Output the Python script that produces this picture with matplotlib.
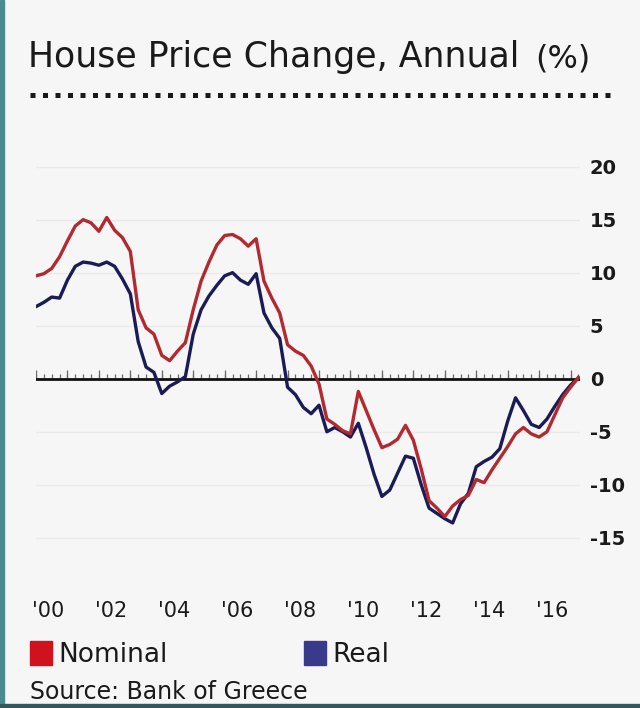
import numpy as np
import matplotlib
matplotlib.use('Agg')
import matplotlib.pyplot as plt
from matplotlib.lines import Line2D
from matplotlib.patches import Rectangle

# quarterly readings, 2000 Q1 onwards
nominal = [9.7, 9.9, 10.4, 11.5, 13.0, 14.4, 15.0, 14.7, 13.9, 15.2,
           14.0, 13.3, 12.0, 6.5, 4.8, 4.2, 2.2, 1.7, 2.6, 3.4,
           6.5, 9.2, 11.0, 12.6, 13.5, 13.6, 13.2, 12.5, 13.2, 9.2,
           7.6, 6.2, 3.2, 2.6, 2.2, 1.2, -0.5, -3.8, -4.3, -4.9,
           -5.2, -1.2, -3.0, -4.8, -6.5, -6.2, -5.7, -4.4, -5.8, -8.5,
           -11.5, -12.2, -13.0, -12.0, -11.4, -11.0, -9.5, -9.8, -8.6, -7.5,
           -6.4, -5.2, -4.6, -5.2, -5.5, -5.0, -3.4, -1.8, -0.8, 0.1]
real = [6.8, 7.2, 7.7, 7.6, 9.3, 10.6, 11.0, 10.9, 10.7, 11.0,
        10.6, 9.4, 8.0, 3.5, 1.1, 0.6, -1.4, -0.7, -0.3, 0.2,
        4.2, 6.5, 7.8, 8.8, 9.7, 10.0, 9.3, 8.9, 9.9, 6.2,
        4.8, 3.8, -0.8, -1.5, -2.7, -3.3, -2.5, -5.0, -4.6, -5.0,
        -5.5, -4.2, -6.5, -9.0, -11.1, -10.5, -8.9, -7.3, -7.5, -10.0,
        -12.2, -12.7, -13.2, -13.6, -11.8, -10.8, -8.3, -7.8, -7.4, -6.6,
        -4.0, -1.8, -3.0, -4.3, -4.6, -3.8, -2.6, -1.5, -0.6, 0.1]
years = [2000, 2002, 2004, 2006, 2008, 2010, 2012, 2014, 2016]
year_labels = ["'00", "'02", "'04", "'06", "'08", "'10", "'12", "'14", "'16"]
y_ticks = [20, 15, 10, 5, 0, -5, -10, -15]

x = 2000 + np.arange(len(nominal)) / 4.0

W, H = 640, 708
fig = plt.figure(figsize=(W / 100, H / 100), dpi=100)
fig.patch.set_facecolor('#f6f6f6')

ax = fig.add_axes([36 / W, 1 - 559 / H, 544 / W, 403 / H])
ax.set_facecolor('none')
ax.set_xlim(2000, 2017.3)
ax.set_ylim(-17, 21)

for v in y_ticks:
    if v != 0:
        ax.axhline(v, color='#e9e9e9', lw=1, zorder=0)

# small tick marks sitting on the zero line
qx = np.arange(2000, 2017.3, 0.25)
ax.vlines(qx, 0, 0.45, color='#6a6a6a', lw=0.9, zorder=1)
ax.vlines(np.arange(2000, 2018), 0, 0.8, color='#6a6a6a', lw=0.9, zorder=1)
ax.axhline(0, color='#111111', lw=2.0, zorder=2)

ax.plot(x, real, color='#1b1b55', lw=2.4, zorder=3)
ax.plot(x, nominal, color='#b02a30', lw=2.4, zorder=4)

for s in ax.spines.values():
    s.set_visible(False)
ax.yaxis.tick_right()
ax.set_yticks(y_ticks)
ax.set_yticklabels([str(v) for v in y_ticks], fontweight='bold')
ax.tick_params(axis='y', length=0, pad=7, labelsize=14, labelcolor='#1a1a1a')
ax.set_xticks([yr + 0.4 for yr in years])
ax.set_xticklabels(year_labels)
ax.tick_params(axis='x', length=0, pad=30, labelsize=15, labelcolor='#1a1a1a')

# title and dotted rule
fig.text(28 / W, 1 - 57 / H, 'House Price Change, Annual', fontsize=25,
         va='center', ha='left', color='#1a1a1a')
fig.text(535 / W, 1 - 59 / H, '(%)', fontsize=23, va='center', ha='left',
         color='#1a1a1a')
fig.add_artist(Line2D([30 / W, 610 / W], [1 - 95 / H, 1 - 95 / H],
                      transform=fig.transFigure, color='#1a1a1a', lw=3.6,
                      linestyle=(0, (1, 1.5)), dash_capstyle='butt'))

# legend
fig.add_artist(Rectangle((30 / W, 1 - 665 / H), 22 / W, 24 / H,
                         transform=fig.transFigure, color='#d0121e'))
fig.text(58 / W, 1 - 655 / H, 'Nominal', fontsize=19, va='center', ha='left',
         color='#1a1a1a')
fig.add_artist(Rectangle((304 / W, 1 - 665 / H), 22 / W, 24 / H,
                         transform=fig.transFigure, color='#3a3a8c'))
fig.text(332 / W, 1 - 655 / H, 'Real', fontsize=19, va='center', ha='left',
         color='#1a1a1a')
fig.text(30 / W, 1 - 692 / H, 'Source: Bank of Greece', fontsize=17,
         va='center', ha='left', color='#1a1a1a')

# frame edges
fig.add_artist(Rectangle((0, 0), 4 / W, 1, transform=fig.transFigure,
                         color='#4d8a90'))
fig.add_artist(Rectangle((0, 0), 1, 4 / H, transform=fig.transFigure,
                         color='#35575c'))

fig.savefig('out.png', dpi=100, facecolor=fig.get_facecolor())
